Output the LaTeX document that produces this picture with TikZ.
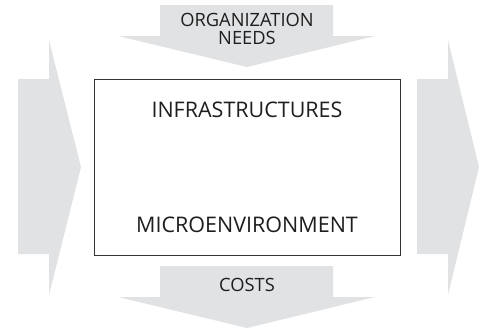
\documentclass[tikz,border=0pt]{standalone}
\usepackage{fontspec}
\setmainfont{Open Sans}
\definecolor{arrowgray}{HTML}{E1E2E4}
\definecolor{framegray}{HTML}{333333}
\definecolor{textgray}{HTML}{1E1E1E}
\begin{document}
\begin{tikzpicture}[x=1pt,y=-1pt]
    \newcommand{\midx}{247}
    \newcommand{\midy}{167}

    % set the styles of the arrows and texts
    \tikzset{
        bigarrow/.style={
            fill=arrowgray,
            draw=none
            },
        boxtext/.style={
            font=\fontsize{21.5}{24}\selectfont,
            text=textgray
            },
        arrowtext/.style={
            font=\fontsize{18.3}{18}\selectfont,
            align=center,
            text=textgray
            }
    }

    \useasboundingbox (0,0) rectangle (484,327);

    % arrows
    \fill[bigarrow] (160,5) -- (333,5) -- (333,36) -- (375,36) -- (\midx,67) -- (118,36) -- (160,36) -- cycle;
    \fill[bigarrow] (160,266) -- (333,266) -- (333,297) -- (375,297) -- (\midx,328) -- (118,297) -- (160,297) -- cycle;
    \fill[bigarrow] (18,79) -- (49,79) -- (49,40) -- (81,\midy) -- (49,295) -- (49,254) -- (18,254) -- cycle;
    \fill[bigarrow] (417,79) -- (448,79) -- (448,40) -- (479,\midy) -- (448,295) -- (448,254) -- (417,254) -- cycle;

    % box
    \node[draw=framegray, line width=0.9pt, minimum width=306pt, minimum height=176pt] (env) at (\midx,\midy) {};

    % texts
    \node[boxtext] (infra) at (\midx,110) {INFRASTRUCTURES};
    \node[boxtext] (micro) at (\midx,225) {MICROENVIRONMENT};
    \node[arrowtext] (needs) at (\midx,29) {ORGANIZATION\\NEEDS};
    \node[arrowtext] (costs) at (\midx,285) {COSTS};

\end{tikzpicture}
\end{document}
